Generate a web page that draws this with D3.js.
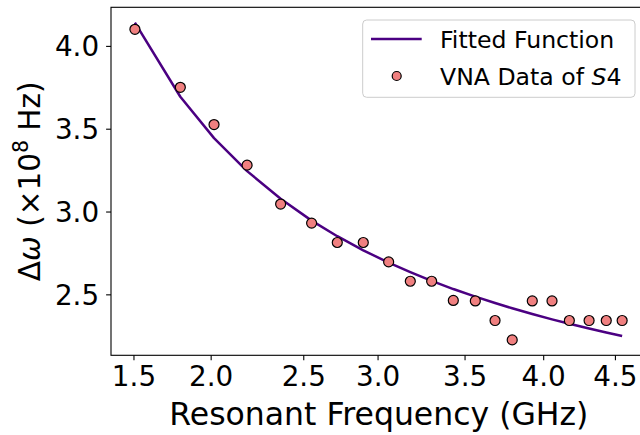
<!DOCTYPE html>
<html>
<head>
<meta charset="utf-8">
<script src="https://cdn.jsdelivr.net/npm/d3@7"></script>
<style>
  body { margin: 0; background: #fff; }
  svg { display: block; font-family: "DejaVu Sans", sans-serif; }
</style>
</head>
<body>
<div id="chart"></div>
<script>
// resonant frequency (GHz) of each measured point
const freqs = [1.509, 1.792, 2.002, 2.208, 2.417, 2.610, 2.770, 2.932, 3.090, 3.225,
  3.358, 3.493, 3.630, 3.753, 3.860, 3.985, 4.108, 4.216, 4.339, 4.446, 4.545];
// VNA measured linewidth (x1e8 Hz)
const vnaData = [4.10, 3.75, 3.525, 3.28, 3.045, 2.93, 2.813, 2.813, 2.696, 2.579,
  2.579, 2.463, 2.46, 2.342, 2.225, 2.46, 2.46, 2.342, 2.342, 2.342, 2.342];
// fitted curve evaluated at the same frequencies
const fitted = [4.140, 3.693, 3.443, 3.244, 3.077, 2.945, 2.851, 2.766, 2.691, 2.634,
  2.581, 2.532, 2.486, 2.448, 2.416, 2.381, 2.349, 2.322, 2.294, 2.270, 2.249];

// x tick positions (GHz) and the labels printed under them
const xTickValues = [1.5, 1.981, 2.558, 3.021, 3.563, 4.053, 4.5];
const xTickLabels = ["1.5", "2.0", "2.5", "3.0", "3.5", "4.0", "4.5"];
const yTickValues = [2.5, 3.0, 3.5, 4.0];

const width = 640;
const height = 435;
const plotLeft = 111;
const plotRight = 646.7;
const plotTop = 7.3;
const plotBottom = 355.3;

const svg = d3.select("#chart")
  .append("svg")
  .attr("width", width)
  .attr("height", height)
  .attr("viewBox", [0, 0, width, height]);

const x = d3.scaleLinear()
  .domain([1.36, 4.698])
  .range([plotLeft, plotRight]);

const y = d3.scaleLinear()
  .domain([2.132, 4.233])
  .range([plotBottom, plotTop]);

// fitted line
const line = d3.line()
  .x((d, i) => x(freqs[i]))
  .y(d => y(d));

svg.append("path")
  .datum(fitted)
  .attr("fill", "none")
  .attr("stroke", "#4B0082")
  .attr("stroke-width", 2.5)
  .attr("stroke-linejoin", "round")
  .attr("d", line);

// scatter
svg.append("g")
  .selectAll("circle")
  .data(vnaData)
  .join("circle")
    .attr("cx", (d, i) => x(freqs[i]))
    .attr("cy", d => y(d))
    .attr("r", 5)
    .attr("fill", "#F08080")
    .attr("stroke", "#000")
    .attr("stroke-width", 1.2);

// axes
const xAxis = d3.axisBottom(x)
  .tickValues(xTickValues)
  .tickFormat((d, i) => xTickLabels[i])
  .tickSize(4.9)
  .tickPadding(6)
  .tickSizeOuter(0);

const gx = svg.append("g")
  .attr("transform", `translate(0,${plotBottom})`)
  .call(xAxis);
gx.select(".domain").remove();
gx.selectAll("text").attr("font-size", 27.8).attr("fill", "#000")
  .attr("font-family", "DejaVu Sans").attr("dy", "0.71em");
gx.selectAll("line").attr("stroke", "#000").attr("stroke-width", 1.1);

const yAxis = d3.axisLeft(y)
  .tickValues(yTickValues)
  .tickFormat(d3.format(".1f"))
  .tickSize(4.9)
  .tickPadding(7)
  .tickSizeOuter(0);

const gy = svg.append("g")
  .attr("transform", `translate(${plotLeft},0)`)
  .call(yAxis);
gy.select(".domain").remove();
gy.selectAll("text").attr("font-size", 27.8).attr("fill", "#000")
  .attr("font-family", "DejaVu Sans").attr("dy", "0.36em");
gy.selectAll("line").attr("stroke", "#000").attr("stroke-width", 1.1);

// frame
svg.append("rect")
  .attr("x", plotLeft)
  .attr("y", plotTop)
  .attr("width", plotRight - plotLeft)
  .attr("height", plotBottom - plotTop)
  .attr("fill", "none")
  .attr("stroke", "#000")
  .attr("stroke-width", 1.1);

// axis labels
svg.append("text")
  .attr("x", (plotLeft + plotRight) / 2)
  .attr("y", 425)
  .attr("text-anchor", "middle")
  .attr("font-size", 31.5)
  .attr("fill", "#000")
  .text("Resonant Frequency (GHz)");

const yLabel = svg.append("text")
  .attr("transform", `translate(40,${(plotTop + plotBottom) / 2}) rotate(-90)`)
  .attr("text-anchor", "middle")
  .attr("font-size", 29.5)
  .attr("fill", "#000");
yLabel.append("tspan").text("Δ");
yLabel.append("tspan").attr("font-style", "italic").text("ω");
yLabel.append("tspan").text(" (×10");
yLabel.append("tspan").attr("font-size", 20.5).attr("dy", -12).text("8");
yLabel.append("tspan").attr("dy", 12).text(" Hz)");

// legend
const legend = svg.append("g");
legend.append("rect")
  .attr("x", 362.7)
  .attr("y", 20)
  .attr("width", 272.3)
  .attr("height", 77.3)
  .attr("rx", 4)
  .attr("fill", "#fff")
  .attr("fill-opacity", 0.8)
  .attr("stroke", "#cccccc")
  .attr("stroke-width", 1);

legend.append("line")
  .attr("x1", 371).attr("x2", 421.7)
  .attr("y1", 39).attr("y2", 39)
  .attr("stroke", "#4B0082")
  .attr("stroke-width", 2.5);

legend.append("text")
  .attr("x", 440)
  .attr("y", 48)
  .attr("font-size", 23.6)
  .attr("fill", "#000")
  .text("Fitted Function");

legend.append("circle")
  .attr("cx", 396.7)
  .attr("cy", 76)
  .attr("r", 4.5)
  .attr("fill", "#F08080")
  .attr("stroke", "#000")
  .attr("stroke-width", 1.2);

const vnaLabel = legend.append("text")
  .attr("x", 440)
  .attr("y", 84.5)
  .attr("font-size", 23.6)
  .attr("fill", "#000");
vnaLabel.append("tspan").text("VNA Data of ");
vnaLabel.append("tspan").attr("font-style", "italic").text("S");
vnaLabel.append("tspan").text("4");
</script>
</body>
</html>
